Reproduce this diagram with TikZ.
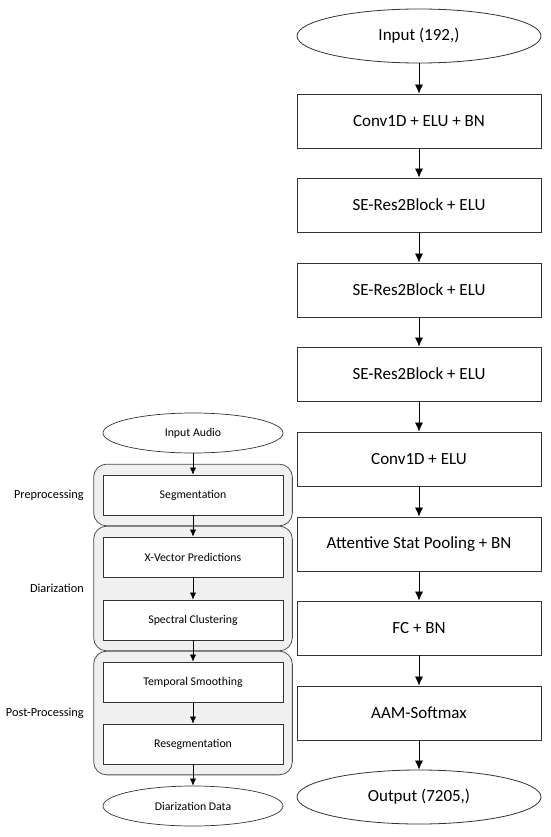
\documentclass[tikz,border=0pt]{standalone}
\usepackage{fontspec}
\setmainfont{Carlito}
\usetikzlibrary{arrows.meta,positioning,fit,backgrounds,shapes.geometric}

\begin{document}
\begin{tikzpicture}[x=1pt,y=-1pt,
    big/.style={draw=black!80, line width=0.8pt, fill=white, minimum width=244pt, minimum height=54pt, inner sep=0pt, font=\fontsize{17}{20}\selectfont},
    bigoval/.style={big, ellipse},
    small/.style={draw=black!80, line width=0.7pt, fill=white, minimum width=180pt, minimum height=40pt, inner sep=0pt, font=\fontsize{11.8}{14}\selectfont},
    smalloval/.style={small, ellipse},
    grp/.style={draw=black!70, line width=0.8pt, fill=black!6, rounded corners=13pt, inner xsep=9pt, inner ysep=10.5pt},
    lbl/.style={font=\fontsize{12.3}{15}\selectfont},
    flow/.style={-{Latex[length=9pt,width=8pt]}, line width=0.7pt},
    sflow/.style={-{Latex[length=7pt,width=6pt]}, line width=0.6pt}]
    \useasboundingbox (0,0) rectangle (550,837);

    % Modele (colonne droite)
    \node[bigoval] (in)   at (419,36)  {Input (192,)};
    \node[big]     (conv) at (419,121) {Conv1D + ELU + BN};
    \node[big]     (se1)  at (419,205) {SE-Res2Block + ELU};
    \node[big]     (se2)  at (419,290) {SE-Res2Block + ELU};
    \node[big]     (se3)  at (419,374) {SE-Res2Block + ELU};
    \node[big]     (conv2) at (419,459) {Conv1D + ELU};
    \node[big]     (pool) at (419,544) {Attentive Stat Pooling + BN};
    \node[big]     (fc)   at (419,628) {FC + BN};
    \node[big]     (aam)  at (419,713) {AAM-Softmax};
    \node[bigoval] (out)  at (419,797) {Output (7205,)};

    \draw[flow] (in) -- (conv);
    \draw[flow] (conv) -- (se1);
    \draw[flow] (se1) -- (se2);
    \draw[flow] (se2) -- (se3);
    \draw[flow] (se3) -- (conv2);
    \draw[flow] (conv2) -- (pool);
    \draw[flow] (pool) -- (fc);
    \draw[flow] (fc) -- (aam);
    \draw[flow] (aam) -- (out);

    % Pipeline (colonne gauche)
    \node[smalloval] (audio) at (193,433) {Input Audio};
    \node[small] (seg)   at (193,495) {Segmentation};
    \node[small] (xvec)  at (193,557) {X-Vector Predictions};
    \node[small] (clust) at (193,620) {Spectral Clustering};
    \node[small] (smooth) at (193,682) {Temporal Smoothing};
    \node[small] (reseg) at (193,744) {Resegmentation};
    \node[smalloval] (data) at (193,806) {Diarization Data};

    \begin{scope}[on background layer]
        \node[grp, fit=(seg)] (pre) {};
        \node[grp, fit=(xvec) (clust)] (diar) {};
        \node[grp, fit=(smooth) (reseg)] (post) {};
    \end{scope}

    \node[lbl, left=6pt of pre] {Preprocessing};
    \node[lbl, left=6pt of diar] {Diarization};
    \node[lbl, left=6pt of post] {Post-Processing};

    \draw[sflow] (audio) -- (seg);
    \draw[sflow] (seg) -- (xvec);
    \draw[sflow] (xvec) -- (clust);
    \draw[sflow] (clust) -- (smooth);
    \draw[sflow] (smooth) -- (reseg);
    \draw[sflow] (reseg) -- (data);
\end{tikzpicture}
\end{document}
